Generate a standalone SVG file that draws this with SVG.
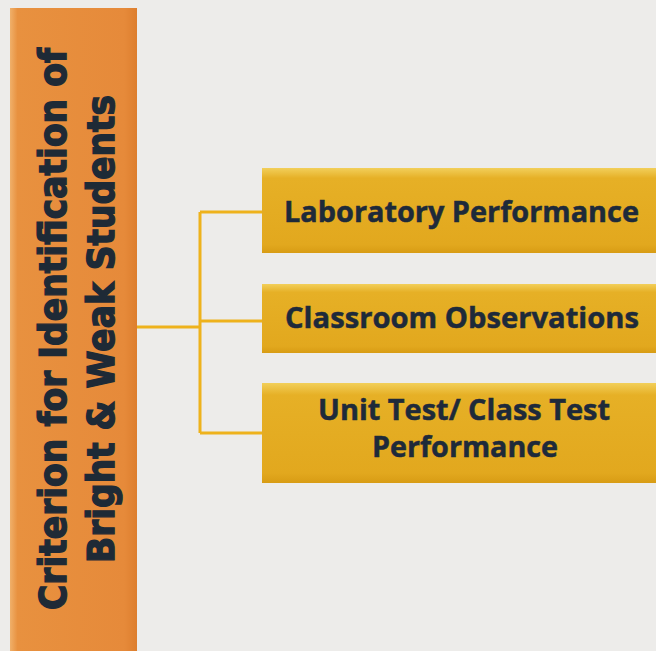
<svg xmlns="http://www.w3.org/2000/svg" width="656" height="651" viewBox="0 0 656 651">
<defs>
<linearGradient id="barG" x1="0" y1="0" x2="1" y2="0">
<stop offset="0" stop-color="#f0b06a"/>
<stop offset="0.06" stop-color="#e8913f"/>
<stop offset="0.9" stop-color="#e68a3a"/>
<stop offset="1" stop-color="#dd7e2e"/>
</linearGradient>
<linearGradient id="boxG" x1="0" y1="0" x2="0" y2="1">
<stop offset="0" stop-color="#f2cf5a"/>
<stop offset="0.12" stop-color="#e6b026"/>
<stop offset="0.9" stop-color="#e2a81e"/>
<stop offset="1" stop-color="#d89c14"/>
</linearGradient>
<style>
.bar{fill:url(#barG);}
.box{fill:url(#boxG);}
.vt{font-family:"DejaVu Sans","Liberation Sans",sans-serif;font-weight:bold;font-size:37px;fill:#1e2a36;stroke:#1e2a36;stroke-width:1.4;}
.bt{font-family:"Open Sans","Liberation Sans",sans-serif;font-weight:bold;font-size:29px;fill:#1e2a3a;stroke:#1e2a3a;stroke-width:0.5;}
.ln{fill:none;stroke:#eeb21c;stroke-width:3;}
</style>
</defs>
<rect x="0" y="0" width="656" height="651" fill="#edecea"/>
<g id="root">
<rect class="bar" x="10" y="8" width="127" height="643"/>
<text class="vt" transform="translate(66,610) rotate(-90)" textLength="562" lengthAdjust="spacingAndGlyphs">Criterion for Identification of</text>
<text class="vt" transform="translate(114,563) rotate(-90)" textLength="468" lengthAdjust="spacingAndGlyphs">Bright &amp; Weak Students</text>
</g>
<g id="connectors">
<path class="ln" d="M137,327 H200 M200,212 V433 M200,212 H262 M200,321 H262 M200,433 H262"/>
</g>
<g id="n1">
<rect class="box" x="262" y="168" width="394" height="85"/>
<text class="bt" x="284" y="222" textLength="355" lengthAdjust="spacingAndGlyphs">Laboratory Performance</text>
</g>
<g id="n2">
<rect class="box" x="262" y="284" width="394" height="69"/>
<text class="bt" x="285" y="328" textLength="354" lengthAdjust="spacingAndGlyphs">Classroom Observations</text>
</g>
<g id="n3">
<rect class="box" x="262" y="383" width="394" height="100"/>
<text class="bt" x="318" y="420" textLength="292" lengthAdjust="spacingAndGlyphs">Unit Test/ Class Test</text>
<text class="bt" x="372" y="457" textLength="186" lengthAdjust="spacingAndGlyphs">Performance</text>
</g>
</svg>
